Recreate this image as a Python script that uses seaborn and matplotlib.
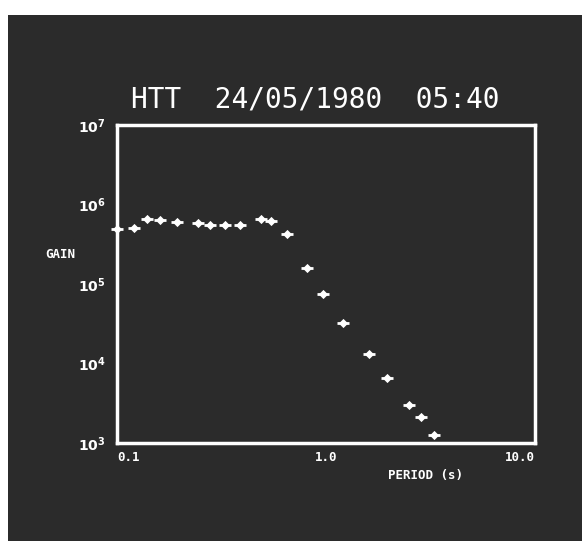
import matplotlib
matplotlib.use("Agg")
import matplotlib.pyplot as plt
from matplotlib.patches import Rectangle
import seaborn as sns
import pandas as pd

period = [0.10, 0.12, 0.139, 0.161, 0.193, 0.245, 0.279, 0.329, 0.388, 0.489, 0.543,
          0.648, 0.809, 0.971, 1.21, 1.61, 1.95, 2.49, 2.84, 3.30]
gain = [4.9e5, 5.1e5, 6.6e5, 6.3e5, 6.0e5, 5.8e5, 5.5e5, 5.6e5, 5.6e5, 6.5e5, 6.2e5,
        4.2e5, 1.6e5, 7.4e4, 3.2e4, 1.3e4, 6.6e3, 3.0e3, 2.1e3, 1.26e3]
x_ticks = [0.1, 1.0, 10.0]
x_tick_labels = ["0.1", "1.0", "10.0"]
y_ticks = [1e3, 1e4, 1e5, 1e6, 1e7]
y_tick_labels = ["$\\mathbf{10^{3}}$", "$\\mathbf{10^{4}}$", "$\\mathbf{10^{5}}$",
                 "$\\mathbf{10^{6}}$", "$\\mathbf{10^{7}}$"]
title = "HTT  24/05/1980  05:40"

df = pd.DataFrame({"period": period, "gain": gain})

sns.set_style("dark")
dark = "#2b2b2b"
fig = plt.figure(figsize=(5.84, 5.46), dpi=100, facecolor="white")
fig.patches.append(Rectangle((8 / 584, 5 / 546), 574 / 584, 526 / 546,
                             transform=fig.transFigure, facecolor=dark,
                             edgecolor="none", zorder=-10))
ax = fig.add_axes([117 / 584, 103 / 546, 418 / 584, 318 / 546])
ax.set_zorder(1)
ax.set_facecolor(dark)

sns.scatterplot(data=df, x="period", y="gain", marker="D", s=22, color="white",
                edgecolor="white", linewidth=0, ax=ax, zorder=3, clip_on=False)
sns.scatterplot(data=df, x="period", y="gain", marker="_", s=80, color="white",
                linewidth=2, ax=ax, zorder=3, clip_on=False)

ax.set_xscale("log")
ax.set_yscale("log")
ax.set_xlim(0.1, 10)
ax.set_ylim(1e3, 1e7)
ax.grid(False)
for s in ax.spines.values():
    s.set_visible(True)
    s.set_color("white")
    s.set_linewidth(2.5)

ax.set_xticks(x_ticks)
ax.set_xticklabels(x_tick_labels, fontfamily="DejaVu Sans Mono", fontweight="bold",
                   fontsize=9, color="white")
ax.set_yticks(y_ticks)
ax.set_yticklabels(y_tick_labels, fontsize=10, color="white")
ax.minorticks_off()
ax.tick_params(axis="both", direction="in", length=4, width=2, color="white")
ax.tick_params(axis="x", pad=6)
ax.tick_params(axis="y", pad=8)
xl = ax.get_xticklabels()
xl[0].set_ha("left")
xl[2].set_ha("right")

ax.set_xlabel("")
ax.set_ylabel("")
fig.text(45 / 584, 1 - 255 / 546, "GAIN", color="white", fontsize=9,
         fontfamily="DejaVu Sans Mono", fontweight="bold", va="center", ha="left")
fig.text(388 / 584, 1 - 475 / 546, "PERIOD (s)", color="white", fontsize=9,
         fontfamily="DejaVu Sans Mono", fontweight="bold", va="center", ha="left")
fig.text(315 / 584, 1 - 100 / 546, title, color="white", fontsize=20,
         fontfamily="DejaVu Sans Mono", va="center", ha="center")

fig.savefig("out.png", dpi=100, facecolor="white")
